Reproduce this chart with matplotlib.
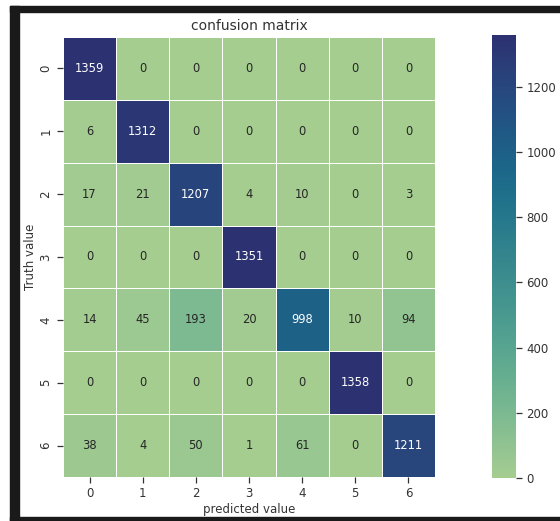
import numpy as np
import matplotlib
matplotlib.use('Agg')
import matplotlib.pyplot as plt
from matplotlib.patches import Rectangle
import seaborn as sns

labels = ['0', '1', '2', '3', '4', '5', '6']
cm = np.array([
    [1359, 0, 0, 0, 0, 0, 0],
    [6, 1312, 0, 0, 0, 0, 0],
    [17, 21, 1207, 4, 10, 0, 3],
    [0, 0, 0, 1351, 0, 0, 0],
    [14, 45, 193, 20, 998, 10, 94],
    [0, 0, 0, 0, 0, 1358, 0],
    [38, 4, 50, 1, 61, 0, 1211],
])
cbar_ticks = [0, 200, 400, 600, 800, 1000, 1200]

W, H = 560, 521
fig = plt.figure(figsize=(W / 100, H / 100), dpi=100)
fig.patch.set_facecolor('white')

# dark window frame around the plot
def px_rect(x0, y0, x1, y1, color):
    fig.patches.append(Rectangle((x0 / W, 1 - y1 / H), (x1 - x0) / W, (y1 - y0) / H,
                                 transform=fig.transFigure, color=color, zorder=0))

px_rect(10, 6, W, 12, '#1a1a1a')
px_rect(10, 6, 19, H, '#1a1a1a')
px_rect(10, 517, W, H, '#1a1a1a')

ax = fig.add_axes([63 / W, 1 - 477 / H, (435 - 63) / W, (477 - 37) / H])
cax = fig.add_axes([492 / W, 1 - 478 / H, 24 / W, (478 - 35) / H])

sns.heatmap(cm, annot=True, fmt='d', cmap='crest', linewidths=0.7, linecolor='white',
            xticklabels=labels, yticklabels=labels, ax=ax, cbar_ax=cax,
            annot_kws={'fontsize': 8.3})

ax.set_title('confusion matrix', fontsize=10, color='#333333', pad=5)
ax.set_xlabel('predicted value', fontsize=8.5, color='#333333', labelpad=2)
ax.set_ylabel('Truth value', fontsize=8.5, color='#333333', labelpad=2)
ax.tick_params(axis='both', labelsize=8.5, labelcolor='#333333', color='#333333',
               length=4, width=0.9, direction='out')
plt.setp(ax.get_yticklabels(), rotation=90, va='center')
plt.setp(ax.get_xticklabels(), rotation=0)

cax.set_yticks(cbar_ticks)
cax.tick_params(labelsize=8.5, labelcolor='#333333', color='#333333',
                length=4, width=0.9, direction='out')

fig.savefig('out.png', dpi=100)
